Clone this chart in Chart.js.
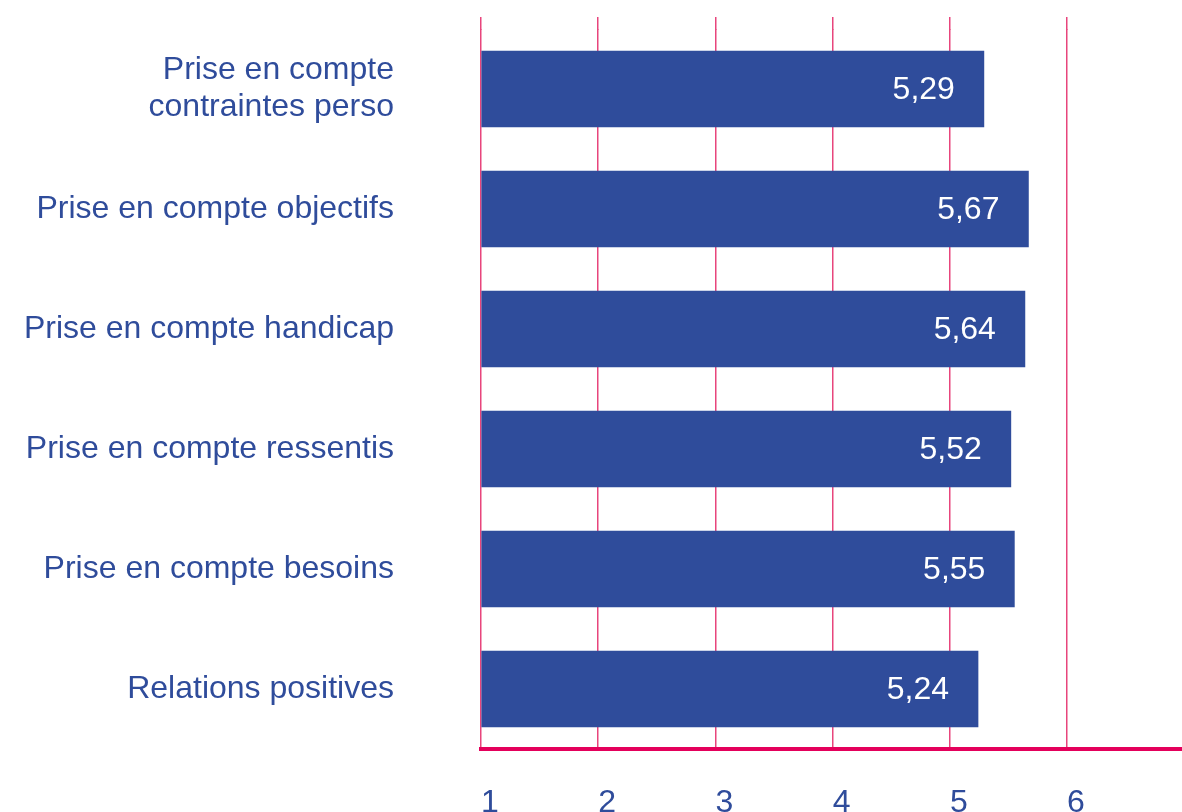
<!DOCTYPE html>
<html>
<head>
<meta charset="utf-8">
<script src="https://cdn.jsdelivr.net/npm/chart.js@4"></script>
<style>
  html, body { margin: 0; padding: 0; background: #fff; }
  #wrap { width: 1182px; height: 812px; }
</style>
</head>
<body>
<div id="wrap"><canvas id="bar-chart"></canvas></div>
<script>
const categories = [
    ["Prise en compte", "contraintes perso"],
    "Prise en compte objectifs",
    "Prise en compte handicap",
    "Prise en compte ressentis",
    "Prise en compte besoins",
    "Relations positives"
];
const scores = [5.29, 5.67, 5.64, 5.52, 5.55, 5.24];
const tickValues = [1, 2, 3, 4, 5, 6];

const blue = '#2F4C9B';
const pink = '#E8457C';
const font = '"Liberation Sans", Arial, sans-serif';

// value written inside the end of each bar
const valueLabels = {
    id: 'valueLabels',
    afterDatasetsDraw(chart) {
        const ctx = chart.ctx;
        const meta = chart.getDatasetMeta(0);
        ctx.save();
        ctx.fillStyle = '#fff';
        ctx.font = '32px ' + font;
        ctx.textAlign = 'right';
        ctx.textBaseline = 'middle';
        meta.data.forEach((bar, i) => {
            ctx.fillText(scores[i].toFixed(2).replace('.', ','), bar.x - 29, bar.y + 1);
        });
        ctx.restore();
    }
};

// vertical grid lines run a little above the first bar
const gridTop = {
    id: 'gridTop',
    beforeDatasetsDraw(chart) {
        const ctx = chart.ctx;
        const x = chart.scales.x;
        const top = chart.chartArea.top;
        const w = 1.5;
        ctx.save();
        ctx.strokeStyle = pink;
        ctx.lineWidth = w;
        tickValues.forEach(v => {
            const px = Math.round(x.getPixelForValue(v) - w / 2) + w / 2;
            ctx.beginPath();
            ctx.moveTo(px, top - 12);
            ctx.lineTo(px, top + 1);
            ctx.stroke();
        });
        ctx.restore();
    }
};

const ctx = document.getElementById('bar-chart').getContext('2d');
new Chart(ctx, {
    type: 'bar',
    data: {
        labels: categories,
        datasets: [{
            data: scores,
            backgroundColor: blue,
            barThickness: 76,
            base: 1
        }]
    },
    options: {
        indexAxis: 'y',
        responsive: true,
        maintainAspectRatio: false,
        animation: false,
        layout: { padding: { top: 29, left: 0, right: 0, bottom: 0 } },
        plugins: {
            legend: { display: false },
            tooltip: { enabled: false }
        },
        scales: {
            x: {
                min: 1,
                max: 6.98,
                grid: { color: pink, lineWidth: 1.5, drawTicks: false },
                border: { color: '#E4005B', width: 4 },
                ticks: {
                    stepSize: 1,
                    includeBounds: false,
                    align: 'start',
                    padding: 35,
                    color: blue,
                    font: { family: font, size: 32 }
                },
                afterFit(scale) {
                    scale.height = 63;
                    scale.paddingLeft = 0;
                    scale.paddingRight = 0;
                }
            },
            y: {
                grid: { display: false, drawTicks: false },
                border: { display: false },
                ticks: {
                    padding: 87,
                    color: blue,
                    font: { family: font, size: 32, lineHeight: 1.16 }
                },
                afterFit(scale) {
                    scale.width = 481;
                    scale.paddingTop = 0;
                    scale.paddingBottom = 0;
                }
            }
        }
    },
    plugins: [gridTop, valueLabels]
});
</script>
</body>
</html>
